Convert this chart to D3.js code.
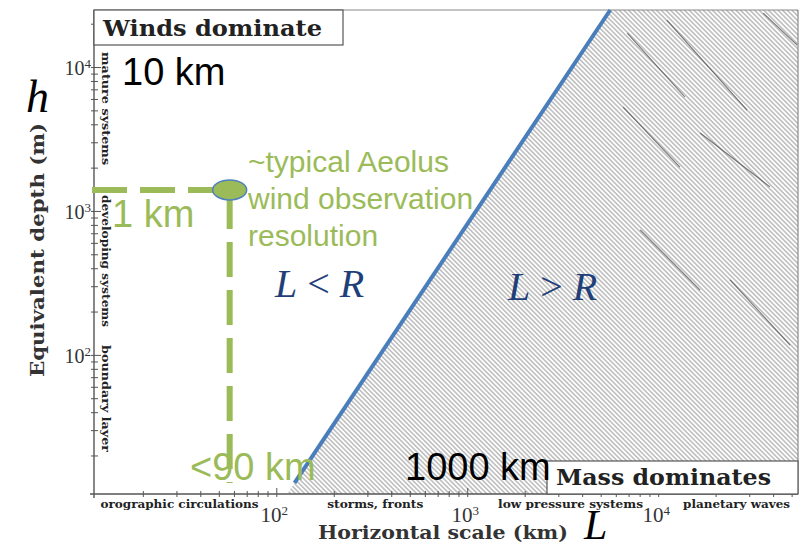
<!DOCTYPE html>
<html>
<head>
<meta charset="utf-8">
<script src="https://cdn.jsdelivr.net/npm/d3@7"></script>
<style>
  body { margin: 0; background: #fff; }
  svg { display: block; }
</style>
</head>
<body>
<div id="chart"></div>
<script>
// Axis domains (km and m)
const xDomain = [11.1, 54000];
const yDomain = [10.8, 24900];
const xMajor = [100, 1000, 10000];
const yMajor = [100, 1000, 10000];

// L = R boundary (Rossby radius), two points on the straight log-log line
const boundaryL = [114, 5610];
const boundaryH = [10.8, 24900];
const blueStartH = 12.9;

// Aeolus marker
const aeolusL = 57;
const aeolusH = 1400;

// dark streaks in the hatched area (scan marks), [L1, h1, L2, h2]
const streaks = [
    [6890, 17200, 13800, 6190],
    [6560, 5270, 13000, 2020],
    [11100, 21200, 29200, 5020],
    [16600, 3480, 38500, 1470],
    [35500, 23700, 53500, 14200],
    [8050, 738, 16600, 282],
    [23800, 332, 49100, 117]
];

const bottomLabels = [
    { text: "orographic circulations", L: 12.0, len: 158 },
    { text: "storms, fronts", L: 185, len: 96 },
    { text: "low pressure systems", L: 1450, len: 145 },
    { text: "planetary waves", L: 13500, len: 107 }
];
const sideLabels = [
    { text: "mature systems", h: 12700, len: 113 },
    { text: "developing systems", h: 1290, len: 132 },
    { text: "boundary layer", h: 117, len: 107 }
];

const width = 809, height = 545;
const pLeft = 94, pRight = 798, pTop = 10, pBottom = 494;

const x = d3.scaleLog().domain(xDomain).range([pLeft, pRight]);
const y = d3.scaleLog().domain(yDomain).range([pBottom, pTop]);

const svg = d3.select("#chart")
    .append("svg")
    .attr("width", width)
    .attr("height", height);

const defs = svg.append("defs");
const pat = defs.append("pattern")
    .attr("id", "hatch")
    .attr("patternUnits", "userSpaceOnUse")
    .attr("width", 3.3)
    .attr("height", 3.3)
    .attr("patternTransform", "rotate(45)");
pat.append("line")
    .attr("x1", 0).attr("y1", 1.65)
    .attr("x2", 3.3).attr("y2", 1.65)
    .style("stroke", "#a2a2a2")
    .style("stroke-width", 1.1);

defs.append("clipPath").attr("id", "plotclip")
    .append("rect")
    .attr("x", pLeft).attr("y", pTop)
    .attr("width", pRight - pLeft).attr("height", pBottom - pTop);

// hatched region right of the boundary
const slope = Math.log(boundaryL[1] / boundaryL[0]) / Math.log(boundaryH[1] / boundaryH[0]);
const Lat = h => boundaryL[0] * Math.pow(h / boundaryH[0], slope);

svg.append("path")
    .attr("d", d3.line()([
        [x(Lat(yDomain[0])), y(yDomain[0])],
        [x(Lat(yDomain[1])), y(yDomain[1])],
        [x(xDomain[1]), y(yDomain[1])],
        [x(xDomain[1]), y(yDomain[0])]
    ]))
    .style("fill", "url(#hatch)")
    .attr("clip-path", "url(#plotclip)");

svg.append("g")
    .attr("clip-path", "url(#plotclip)")
    .selectAll("line")
    .data(streaks)
    .enter()
    .append("line")
    .attr("x1", d => x(d[0])).attr("y1", d => y(d[1]))
    .attr("x2", d => x(d[2])).attr("y2", d => y(d[3]))
    .style("stroke", "#555")
    .style("stroke-width", 1.1)
    .style("opacity", 0.8);

// frame
svg.append("line")
    .attr("x1", pLeft).attr("y1", pTop).attr("x2", pRight).attr("y2", pTop)
    .style("stroke", "#8a8a8a").style("stroke-width", 1.2);
svg.append("line")
    .attr("x1", pRight).attr("y1", pTop).attr("x2", pRight).attr("y2", pBottom)
    .style("stroke", "#8a8a8a").style("stroke-width", 1.2);

// axes with log minor ticks
const yAxis = d3.axisRight(y)
    .tickValues(y.ticks())
    .tickSize(4)
    .tickFormat("");
svg.append("g")
    .attr("transform", `translate(${pLeft},0)`)
    .call(yAxis)
    .call(g => g.select(".domain").remove())
    .call(g => g.selectAll("line").style("stroke", "#555").attr("x1", -3))
    .call(g => g.selectAll(".tick").filter(d => yMajor.includes(d)).select("line").attr("x2", 7));

const xAxis = d3.axisTop(x)
    .tickValues(x.ticks())
    .tickSize(3)
    .tickFormat("");
svg.append("g")
    .attr("transform", `translate(0,${pBottom})`)
    .call(xAxis)
    .call(g => g.select(".domain").remove())
    .call(g => g.selectAll("line").style("stroke", "#555").attr("y1", 3))
    .call(g => g.selectAll(".tick").filter(d => xMajor.includes(d)).select("line").attr("y2", -6));

svg.append("line")
    .attr("x1", pLeft).attr("y1", pTop).attr("x2", pLeft).attr("y2", pBottom + 4)
    .style("stroke", "#555").style("stroke-width", 1.4);
svg.append("line")
    .attr("x1", pLeft - 4).attr("y1", pBottom).attr("x2", pRight).attr("y2", pBottom)
    .style("stroke", "#555").style("stroke-width", 1.4);

const sup = (sel, base, exp) => {
    sel.append("tspan").text(base);
    sel.append("tspan").text(exp)
        .attr("dy", "-0.55em")
        .style("font-size", "13px");
};

svg.selectAll(".ylab")
    .data(yMajor)
    .enter()
    .append("text")
    .attr("x", 91)
    .attr("y", d => y(d) + 8)
    .attr("text-anchor", "end")
    .style("font-family", "'Liberation Serif', serif")
    .style("font-size", "20px")
    .style("fill", "#333")
    .each(function(d) { sup(d3.select(this), "10", Math.log10(d)); });

svg.selectAll(".xlab")
    .data(xMajor)
    .enter()
    .append("text")
    .attr("x", d => x(d) - 2)
    .attr("y", 522)
    .attr("text-anchor", "middle")
    .style("font-family", "'Liberation Serif', serif")
    .style("font-size", "21px")
    .style("fill", "#333")
    .each(function(d) { sup(d3.select(this), "10", Math.log10(d)); });

// small typewriter-style labels
const slab = "'DejaVu Serif', serif";
svg.selectAll(".blab")
    .data(bottomLabels)
    .enter()
    .append("text")
    .attr("x", d => x(d.L))
    .attr("y", 508)
    .attr("textLength", d => d.len)
    .attr("lengthAdjust", "spacingAndGlyphs")
    .text(d => d.text)
    .style("font-family", slab)
    .style("font-weight", "bold")
    .style("font-size", "10.5px")
    .style("fill", "#222");

svg.selectAll(".slab")
    .data(sideLabels)
    .enter()
    .append("text")
    .attr("transform", d => `translate(102,${y(d.h)}) rotate(90)`)
    .attr("textLength", d => d.len)
    .attr("lengthAdjust", "spacingAndGlyphs")
    .text(d => d.text)
    .style("font-family", slab)
    .style("font-weight", "bold")
    .style("font-size", "11.5px")
    .style("fill", "#222");

// axis titles
svg.append("text")
    .attr("transform", "translate(44,377) rotate(-90)")
    .attr("textLength", 254)
    .attr("lengthAdjust", "spacingAndGlyphs")
    .text("Equivalent depth (m)")
    .style("font-family", slab)
    .style("font-weight", "bold")
    .style("font-size", "18px")
    .style("fill", "#333");

svg.append("text")
    .attr("x", 318)
    .attr("y", 539)
    .attr("textLength", 250)
    .attr("lengthAdjust", "spacingAndGlyphs")
    .text("Horizontal scale (km)")
    .style("font-family", slab)
    .style("font-weight", "bold")
    .style("font-size", "18px")
    .style("fill", "#333");

// boxes
const boxes = [
    { text: "Winds dominate", x0: pLeft, x1: 343, y0: pTop, y1: 45, len: 219 },
    { text: "Mass dominates", x0: 547, x1: pRight, y0: 461, y1: pBottom, len: 215 }
];
const box = svg.selectAll(".box")
    .data(boxes)
    .enter()
    .append("g");
box.append("rect")
    .attr("x", d => d.x0).attr("y", d => d.y0)
    .attr("width", d => d.x1 - d.x0).attr("height", d => d.y1 - d.y0)
    .style("fill", "#fff")
    .style("stroke", "#555")
    .style("stroke-width", 1.2);
box.append("text")
    .attr("x", d => d.x0 + 9)
    .attr("y", d => d.y1 - 9)
    .attr("textLength", d => d.len)
    .attr("lengthAdjust", "spacingAndGlyphs")
    .text(d => d.text)
    .style("font-family", slab)
    .style("font-weight", "bold")
    .style("font-size", "23px")
    .style("fill", "#222");

// blue L = R line
svg.append("line")
    .attr("x1", x(Lat(blueStartH))).attr("y1", y(blueStartH))
    .attr("x2", x(Lat(yDomain[1]))).attr("y2", y(yDomain[1]))
    .style("stroke", "#4a7ebb")
    .style("stroke-width", 4);

// green dashed guide lines and marker
const green = "#9bbb59";
svg.append("line")
    .attr("x1", pLeft - 2).attr("y1", y(aeolusH))
    .attr("x2", x(aeolusL)).attr("y2", y(aeolusH))
    .style("stroke", green).style("stroke-width", 6)
    .style("stroke-dasharray", "35,13");
svg.append("line")
    .attr("x1", x(aeolusL)).attr("y1", y(aeolusH) + 4)
    .attr("x2", x(aeolusL)).attr("y2", 483)
    .style("stroke", green).style("stroke-width", 6)
    .style("stroke-dasharray", "35,13");
svg.append("ellipse")
    .attr("cx", x(aeolusL)).attr("cy", y(aeolusH))
    .attr("rx", 17).attr("ry", 10)
    .style("fill", green)
    .style("stroke", "#4f81bd")
    .style("stroke-width", 1.5);

// annotations
const sans = "'Liberation Sans', Arial, sans-serif";
const notes = [
    { text: "10 km", x: 122, y: 85, color: "#000" },
    { text: "1 km", x: 112, y: 227, color: green },
    { text: "<90 km", x: 190, y: 480, color: green },
    { text: "1000 km", x: 405, y: 480, color: "#000" }
];
svg.selectAll(".note")
    .data(notes)
    .enter()
    .append("text")
    .attr("x", d => d.x)
    .attr("y", d => d.y)
    .text(d => d.text)
    .style("font-family", sans)
    .style("font-size", "38px")
    .style("fill", d => d.color);

const aeolusLines = ["~typical Aeolus", "wind observation", "resolution"];
svg.selectAll(".aeo")
    .data(aeolusLines)
    .enter()
    .append("text")
    .attr("x", 248)
    .attr("y", (d, i) => 172 + i * 37)
    .text(d => d)
    .style("font-family", sans)
    .style("font-size", "30px")
    .style("fill", green);

// math labels
const mathFont = "'Liberation Serif', 'DejaVu Serif', serif";
const rel = [
    { op: "<", x: 275, y: 297 },
    { op: ">", x: 508, y: 300 }
];
rel.forEach(r => {
    const t = svg.append("text")
        .attr("x", r.x).attr("y", r.y)
        .style("font-family", mathFont)
        .style("font-size", "40px")
        .style("fill", "#1f3f7a");
    t.append("tspan").text("L").style("font-style", "italic");
    t.append("tspan").text(" " + r.op + " ");
    t.append("tspan").text("R").style("font-style", "italic");
});

svg.append("text")
    .attr("x", 26).attr("y", 112)
    .text("h")
    .style("font-family", mathFont)
    .style("font-style", "italic")
    .style("font-size", "46px");
svg.append("text")
    .attr("x", 584).attr("y", 539)
    .text("L")
    .style("font-family", mathFont)
    .style("font-style", "italic")
    .style("font-size", "42px");
</script>
</body>
</html>
